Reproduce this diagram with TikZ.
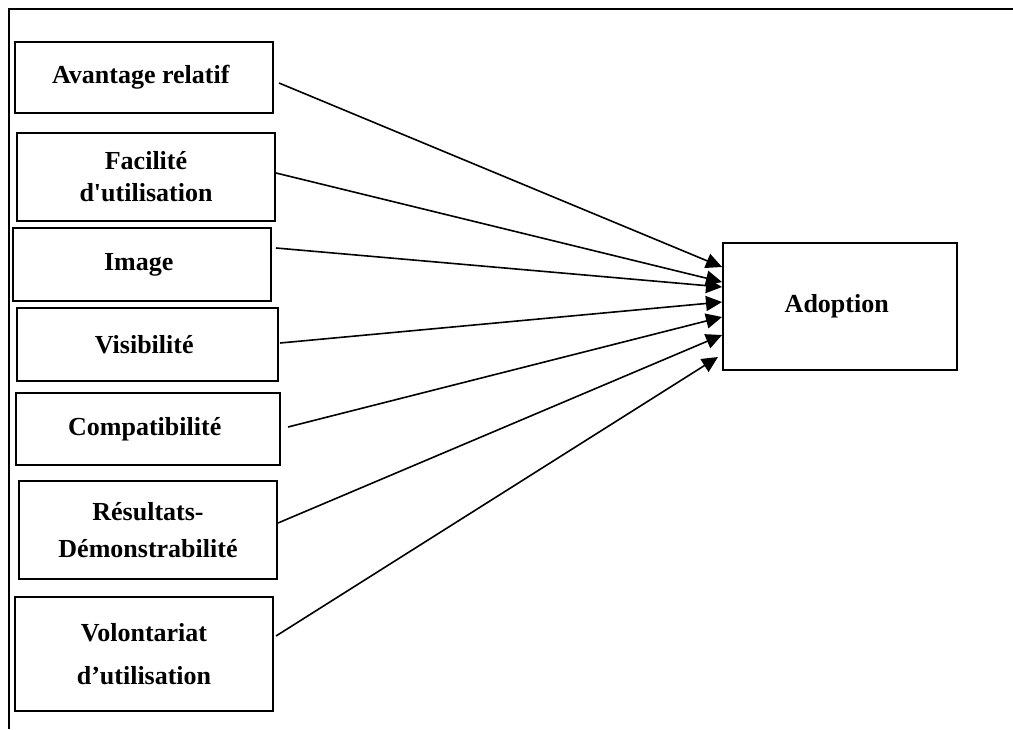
\documentclass[tikz,border=0pt]{standalone}
\usepackage{fontspec}
\setmainfont{Liberation Serif}
\newfontfamily\labelfont{Liberation Serif}
\usetikzlibrary{arrows.meta,calc}

\tikzset{
    factor/.style={draw, line width=1pt, inner sep=0pt, align=center,
        font=\labelfont\bfseries\fontsize{13}{16}\selectfont},
    link/.style={line width=0.8pt, -{Triangle[length=8pt,width=7.5pt]}}
}

\begin{document}
\begin{tikzpicture}[x=0.5pt, y=-0.5pt]
            \useasboundingbox (0, 0) rectangle (1013, 729);
            \draw[line width=0.8pt] (9, 729) -- (9, 9) -- (1013, 9);

            \node[factor, minimum width=129pt, minimum height=35.5pt] (avantage) at (144, 77.5) { Avantage relatif };
            \node[factor, minimum width=129pt, minimum height=44pt] (facilite) at (146, 177) { Facilité\\d'utilisation };
            \node[factor, minimum width=129pt, minimum height=36.5pt] (image) at (142, 264.5) { Image };
            \node[factor, minimum width=130.5pt, minimum height=36.5pt] (visibilite) at (147.5, 344.5) { Visibilité };
            \node[factor, minimum width=132pt, minimum height=36pt] (compat) at (148, 429) { Compatibilité };
            \node[factor, minimum width=129pt, minimum height=49pt] (resultats) at (148, 530) { Résultats-\\[2.5pt]Démonstrabilité };
            \node[factor, minimum width=129pt, minimum height=57pt] (volontariat) at (144, 654) { Volontariat\\[5.5pt]d’utilisation };

            \node[factor, minimum width=117pt, minimum height=63.5pt] (adoption) at (840, 306.5) { Adoption };

            \draw[link] ($(avantage.east)+(5, 5.5)$) -- ($(adoption.west)+(0, -39.5)$);
            \draw[link] ($(facilite.east)+(0, -4)$) -- ($(adoption.west)+(0, -24.5)$);
            \draw[link] ($(image.east)+(4, -16.5)$) -- ($(adoption.west)+(0, -19.5)$);
            \draw[link] ($(visibilite.east)+(1, -1.5)$) -- ($(adoption.west)+(0, -4.5)$);
            \draw[link] ($(compat.east)+(7, -2)$) -- ($(adoption.west)+(0, 10.5)$);
            \draw[link] ($(resultats.east)+(0, -7)$) -- ($(adoption.west)+(0, 28.5)$);
            \draw[link] ($(volontariat.east)+(2, -18)$) -- ($(adoption.west)+(-4, 50.5)$);

        \end{tikzpicture}
\end{document}
